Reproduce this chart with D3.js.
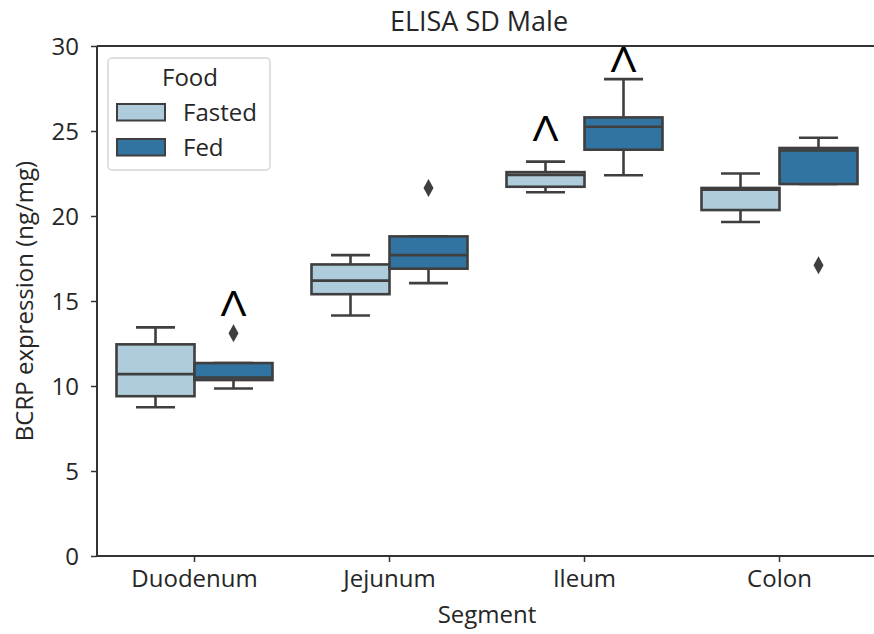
<!DOCTYPE html>
<html>
<head>
<meta charset="utf-8">
<script src="https://cdn.jsdelivr.net/npm/d3@7"></script>
<style>
  html, body { margin: 0; padding: 0; background: #fff; }
  svg { display: block; font-family: "Open Sans", sans-serif; }
</style>
</head>
<body>
<svg id="chart" width="874" height="634"></svg>
<script>
// ---- data ----
const segments = ["Duodenum", "Jejunum", "Ileum", "Colon"];
const foods = ["Fasted", "Fed"];
const yTicks = [0, 5, 10, 15, 20, 25, 30];
// box stats: [whiskerLow, q1, median, q3, whiskerHigh]
const fastedStats = [
  [8.75, 9.4, 10.7, 12.45, 13.45],
  [14.15, 15.4, 16.2, 17.15, 17.7],
  [21.4, 21.72, 22.42, 22.58, 23.2],
  [19.65, 20.35, 21.55, 21.65, 22.5]
];
const fedStats = [
  [9.85, 10.35, 10.5, 11.35, 11.35],
  [16.05, 16.9, 17.7, 18.8, 18.8],
  [22.4, 23.9, 25.25, 25.8, 28.05],
  [21.88, 21.88, 23.85, 24.0, 24.6]
];
const fastedOutliers = [[], [], [], []];
const fedOutliers = [[13.1], [21.65], [], [17.1]];
// significance marks: [segment, food, value at bottom of mark]
const marks = [
  ["Duodenum", "Fed", 14.1],
  ["Ileum", "Fasted", 24.4],
  ["Ileum", "Fed", 28.5]
];
const titleText = "ELISA SD Male";
const xLabel = "Segment";
const yLabel = "BCRP expression (ng/mg)";
const legendTitle = "Food";

// ---- layout ----
const svg = d3.select("#chart");
const mLeft = 97, mTop = 46, mBottom = 556, mRight = 877;
const colors = { Fasted: "#aeccdb", Fed: "#3274a1" };
const lineColor = "#3f3f3f";

const x = d3.scaleBand().domain(segments).range([mLeft, mRight]).padding(0);
const inner = d3.scaleBand().domain(foods).range([0, x.bandwidth() * 0.8]);
const y = d3.scaleLinear().domain([0, 30]).range([mBottom, mTop]);

const boxes = [];
segments.forEach((s, i) => {
  boxes.push({ seg: s, food: "Fasted", st: fastedStats[i], out: fastedOutliers[i] });
  boxes.push({ seg: s, food: "Fed", st: fedStats[i], out: fedOutliers[i] });
});
const bx = d => x(d.seg) + x.bandwidth() * 0.1 + inner(d.food);
const bw = inner.bandwidth();

const g = svg.append("g");
const lw = 2.6;

boxes.forEach(d => {
  const x0 = bx(d), xc = x0 + bw / 2;
  const [lo, q1, med, q3, hi] = d.st;
  g.append("line").attr("x1", xc).attr("x2", xc).attr("y1", y(q3)).attr("y2", y(hi))
    .attr("stroke", lineColor).attr("stroke-width", lw);
  g.append("line").attr("x1", xc).attr("x2", xc).attr("y1", y(q1)).attr("y2", y(lo))
    .attr("stroke", lineColor).attr("stroke-width", lw);
  [lo, hi].forEach(v => {
    g.append("line").attr("x1", xc - bw / 4).attr("x2", xc + bw / 4)
      .attr("y1", y(v)).attr("y2", y(v))
      .attr("stroke", lineColor).attr("stroke-width", lw);
  });
  g.append("rect").attr("x", x0).attr("y", y(q3)).attr("width", bw)
    .attr("height", y(q1) - y(q3))
    .attr("fill", colors[d.food]).attr("stroke", lineColor).attr("stroke-width", lw);
  g.append("line").attr("x1", x0).attr("x2", x0 + bw).attr("y1", y(med)).attr("y2", y(med))
    .attr("stroke", lineColor).attr("stroke-width", lw);
  d.out.forEach(v => {
    const cy = y(v);
    g.append("path")
      .attr("d", `M${xc},${cy - 9} L${xc + 5},${cy} L${xc},${cy + 9} L${xc - 5},${cy} Z`)
      .attr("fill", lineColor);
  });
});

marks.forEach(([s, f, v]) => {
  const xc = x(s) + x.bandwidth() * 0.1 + inner(f) + bw / 2;
  svg.append("text")
    .attr("transform", `translate(${xc},${y(v)}) scale(1.25,1)`)
    .attr("text-anchor", "middle")
    .attr("font-family", "Open Sans").attr("font-size", 34)
    .attr("fill", "#000").text("Λ");
});

const axisColor = "#333";
svg.append("line").attr("x1", mLeft).attr("x2", mLeft).attr("y1", mTop).attr("y2", mBottom)
  .attr("stroke", axisColor).attr("stroke-width", 2);
svg.append("line").attr("x1", mLeft).attr("x2", mRight).attr("y1", mBottom).attr("y2", mBottom)
  .attr("stroke", axisColor).attr("stroke-width", 2);
svg.append("line").attr("x1", mLeft).attr("x2", mRight).attr("y1", mTop).attr("y2", mTop)
  .attr("stroke", axisColor).attr("stroke-width", 2);

const yAxis = svg.append("g").attr("transform", `translate(${mLeft},0)`)
  .call(d3.axisLeft(y).tickValues(yTicks).tickSize(6).tickPadding(12).tickFormat(d3.format("d")));
yAxis.select(".domain").remove();
yAxis.selectAll(".tick line").attr("stroke", axisColor).attr("stroke-width", 1.5);
yAxis.selectAll(".tick text").attr("font-size", 24).attr("fill", "#262626")
  .attr("font-family", "Open Sans").attr("dy", "0.36em");

const xAxis = svg.append("g").attr("transform", `translate(0,${mBottom})`)
  .call(d3.axisBottom(x).tickSize(6).tickPadding(8));
xAxis.select(".domain").remove();
xAxis.selectAll(".tick line").attr("stroke", axisColor).attr("stroke-width", 1.5);
xAxis.selectAll(".tick text").attr("font-size", 24).attr("fill", "#262626")
  .attr("font-family", "Open Sans");

svg.append("text").attr("x", 479).attr("y", 31).attr("text-anchor", "middle")
  .attr("font-size", 27).attr("fill", "#262626").text(titleText);
svg.append("text").attr("x", 487).attr("y", 623).attr("text-anchor", "middle")
  .attr("font-size", 24).attr("fill", "#262626").text(xLabel);
svg.append("text").attr("transform", `translate(33,${(mTop + mBottom) / 2}) rotate(-90)`)
  .attr("text-anchor", "middle").attr("font-size", 24).attr("fill", "#262626").text(yLabel);

const lg = svg.append("g");
lg.append("rect").attr("x", 108).attr("y", 58).attr("width", 162).attr("height", 112)
  .attr("rx", 4).attr("fill", "#fff").attr("fill-opacity", 0.8)
  .attr("stroke", "#d6d6d6").attr("stroke-width", 1.5);
lg.append("text").attr("x", 190).attr("y", 86).attr("text-anchor", "middle")
  .attr("font-size", 24).attr("fill", "#262626").text(legendTitle);
foods.forEach((f, i) => {
  const yy = 104 + i * 35;
  lg.append("rect").attr("x", 117).attr("y", yy).attr("width", 48).attr("height", 16.5)
    .attr("fill", colors[f]).attr("stroke", lineColor).attr("stroke-width", 2);
  lg.append("text").attr("x", 183).attr("y", yy + 16.5).attr("font-size", 24)
    .attr("fill", "#262626").text(f);
});
</script>
</body>
</html>
